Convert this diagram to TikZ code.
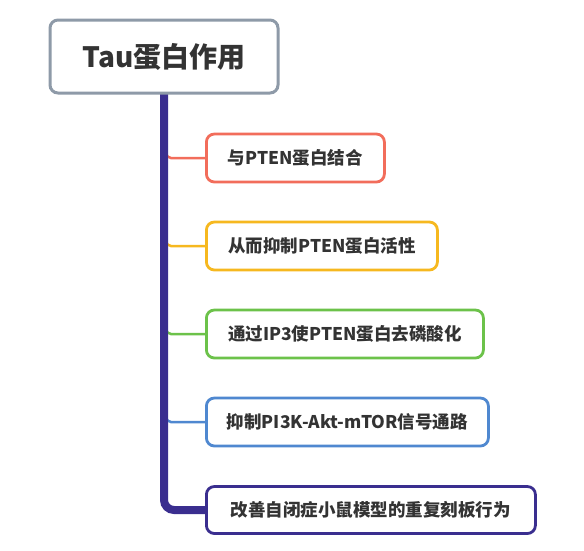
\documentclass[tikz,border=0pt]{standalone}
\usepackage{fontspec}
\setmainfont{Noto Sans CJK SC}
\definecolor{txt}{HTML}{333333}
\definecolor{rootc}{HTML}{8E9AA8}
\definecolor{c1}{HTML}{F26D5B}
\definecolor{c2}{HTML}{F6B81F}
\definecolor{c3}{HTML}{6CC24A}
\definecolor{c4}{HTML}{4F88D0}
\definecolor{c5}{HTML}{3A2E8F}
\tikzset{
  rootbox/.style={draw=rootc, line width=3pt, rounded corners=8pt, fill=white,
    minimum width=228pt, minimum height=73pt, inner sep=0pt,
    font=\fontsize{28pt}{32pt}\selectfont\bfseries, text=txt},
  childbox/.style={draw=#1, line width=2.8pt, rounded corners=8pt, fill=white,
    minimum height=48pt, inner sep=0pt, anchor=west,
    font=\fontsize{17.5pt}{20pt}\selectfont\bfseries, text=txt},
  branch/.style={draw=#1, line width=2.5pt, rounded corners=5pt},
  trunk/.style={draw=c5, line width=8pt, rounded corners=10pt}
}
\begin{document}
\begin{tikzpicture}[x=1pt,y=-1pt]
\useasboundingbox (0,0) rectangle (584,550);
\coordinate (t0) at (164,93);
\coordinate (tc) at (164,510);
\coordinate (t5) at (207,510);
\node[childbox=c1, minimum width=178pt] (b1) at (205,158) {与PTEN蛋白结合};
\node[childbox=c2, minimum width=231pt] (b2) at (205,246) {从而抑制PTEN蛋白活性};
\node[childbox=c3, minimum width=277pt] (b3) at (205,334) {通过IP3使PTEN蛋白去磷酸化};
\node[childbox=c4, minimum width=282pt] (b4) at (205,422) {抑制PI3K-Akt-mTOR信号通路};
\coordinate (j1) at (166,150);
\coordinate (k1) at (166,158);
\coordinate (j2) at (166,238);
\coordinate (k2) at (166,246);
\coordinate (j3) at (166,326);
\coordinate (k3) at (166,334);
\coordinate (j4) at (166,414);
\coordinate (k4) at (166,422);
\draw[branch=c1] (j1) -- (k1) -- (b1.west);
\draw[branch=c2] (j2) -- (k2) -- (b2.west);
\draw[branch=c3] (j3) -- (k3) -- (b3.west);
\draw[branch=c4] (j4) -- (k4) -- (b4.west);
\draw[trunk] (t0) -- (tc) -- (t5);
\node[childbox=c5, minimum width=329pt, minimum height=47pt] (b5) at (205,510) {改善自闭症小鼠模型的重复刻板行为};
\node[rootbox] (root) at (164,56.5) {Tau蛋白作用};
\end{tikzpicture}
\end{document}
